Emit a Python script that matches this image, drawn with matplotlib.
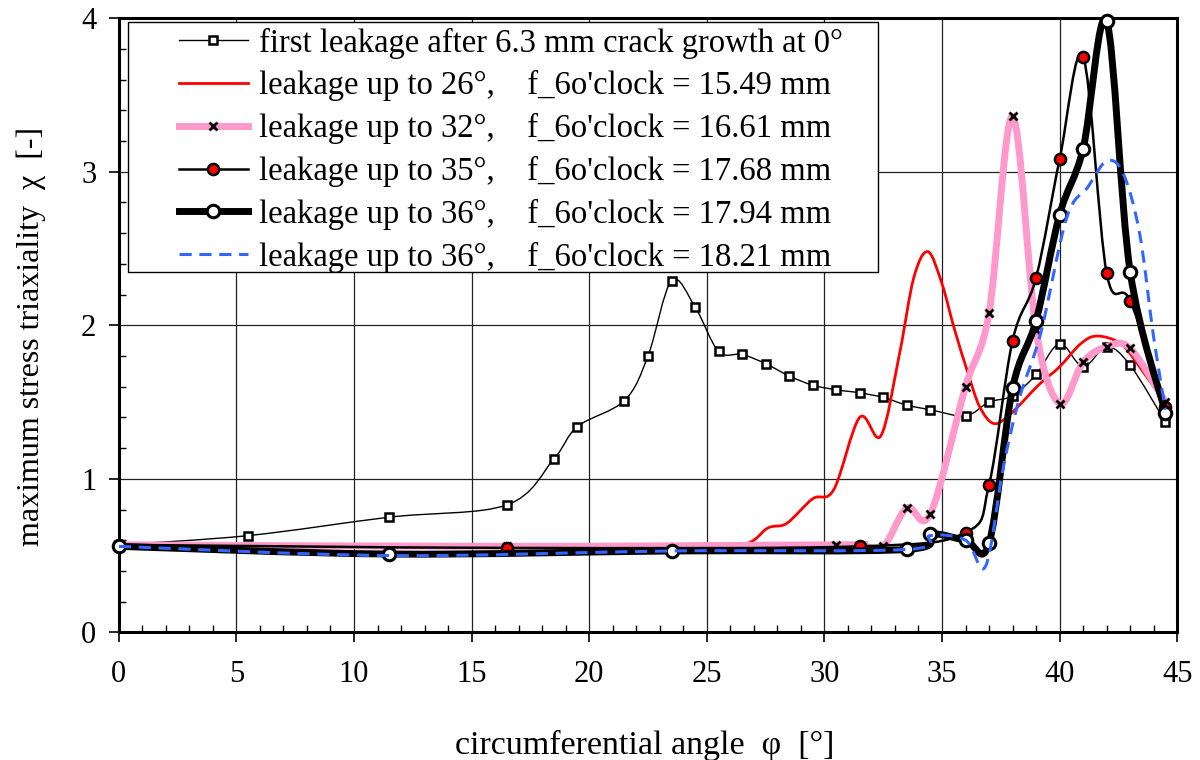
import numpy as np
import matplotlib.pyplot as plt
from matplotlib.path import Path
from matplotlib.patches import PathPatch, Rectangle
from matplotlib.lines import Line2D
from matplotlib.ticker import MultipleLocator

plt.rcParams['font.family'] = ['Liberation Serif', 'DejaVu Serif']

# first leakage after 6.3 mm crack growth at 0 deg
x1 = [0, 5.5, 11.5, 16.5, 18.5, 19.5, 21.5, 22.5, 23.5, 24.5, 25.5, 26.5, 27.5, 28.5,
      29.5, 30.5, 31.5, 32.5, 33.5, 34.5, 36, 37, 38, 39, 40, 41, 42, 43, 44.5]
y1 = [0.57, 0.63, 0.75, 0.83, 1.13, 1.34, 1.51, 1.80, 2.29, 2.12, 1.83, 1.81, 1.75, 1.67,
      1.61, 1.58, 1.56, 1.53, 1.48, 1.45, 1.41, 1.50, 1.54, 1.68, 1.88, 1.73, 1.86, 1.74, 1.37]

# leakage up to 26 deg (no markers)
x2 = [0, 11.5, 23.5, 26.5, 27.6, 28.4, 29.5, 30.4, 31.5, 32.4, 33.2, 33.8, 34.4, 35.0,
      35.5, 36.1, 36.6, 37.2, 37.9, 39.1, 40.0, 40.9, 41.6, 42.6, 43.4, 44.5]
y2 = [0.57, 0.56, 0.56, 0.57, 0.68, 0.71, 0.87, 0.93, 1.40, 1.28, 1.82, 2.31, 2.48, 2.27,
      1.99, 1.69, 1.47, 1.36, 1.42, 1.61, 1.73, 1.88, 1.93, 1.88, 1.73, 1.49]

# leakage up to 32 deg
x3 = [0, 16.5, 30.5, 31.5, 32.5, 33.5, 34.5, 36, 37, 38, 39, 40, 41, 42, 43, 44.5]
y3 = [0.57, 0.56, 0.57, 0.57, 0.56, 0.81, 0.77, 1.60, 2.08, 3.36, 1.97, 1.49, 1.76, 1.86, 1.85, 1.50]

# leakage up to 35 deg
x4 = [0, 16.5, 31.5, 36, 37, 38, 39, 40, 41, 42, 43, 44.5]
y4 = [0.57, 0.55, 0.56, 0.65, 0.96, 1.90, 2.31, 3.08, 3.75, 2.34, 2.16, 1.47]

# leakage up to 36 deg, 17.94 mm
x5 = [0, 11.5, 23.5, 33.5, 34.5, 36, 37, 38, 39, 40, 41, 42, 43, 44.5]
y5 = [0.56, 0.51, 0.53, 0.54, 0.64, 0.60, 0.58, 1.59, 2.03, 2.72, 3.15, 3.98, 2.35, 1.43]

# leakage up to 36 deg, 18.21 mm (no markers)
x6 = [0, 11.5, 23.5, 33.5, 34.5, 36.0, 36.85, 37.6, 38.3, 39.2, 40.3, 41.2, 42.0, 42.7,
      43.4, 44.0, 44.5]
y6 = [0.56, 0.50, 0.53, 0.54, 0.63, 0.60, 0.43, 1.07, 1.53, 1.95, 2.70, 2.90, 3.07, 2.99,
      2.60, 1.92, 1.45]

labels = ["first leakage after 6.3 mm crack growth at 0°",
          "leakage up to 26°,    f_6o'clock = 15.49 mm",
          "leakage up to 32°,    f_6o'clock = 16.61 mm",
          "leakage up to 35°,    f_6o'clock = 17.68 mm",
          "leakage up to 36°,    f_6o'clock = 17.94 mm",
          "leakage up to 36°,    f_6o'clock = 18.21 mm"]


def smooth_path(x, y):
    # bezier path through the points, like a smoothed excel line
    p = np.column_stack([x, y]).astype(float)
    n = len(p)
    verts = [p[0]]
    codes = [Path.MOVETO]
    for i in range(n - 1):
        p0 = p[i - 1] if i > 0 else p[i]
        p3 = p[i + 2] if i + 2 < n else p[i + 1]
        c1 = p[i] + (p[i + 1] - p0) / 6.0
        c2 = p[i + 1] - (p3 - p[i]) / 6.0
        verts += [c1, c2, p[i + 1]]
        codes += [Path.CURVE4] * 3
    return Path(verts, codes)


fig, ax = plt.subplots(figsize=(12, 7.6), dpi=100)
fig.subplots_adjust(left=0.099, right=0.981, bottom=0.168, top=0.976)

styles = [
    dict(color='black', lw=1.0, marker='s', ms=5.5, mfc='white', mec='black', mew=1.8),
    dict(color='red', lw=2.0, marker=None),
    dict(color='#ff99cc', lw=5.0, marker='x', ms=6, mfc='black', mec='black', mew=2.0),
    dict(color='black', lw=1.8, marker='o', ms=8, mfc='red', mec='black', mew=1.8),
    dict(color='black', lw=5.0, marker='o', ms=9, mfc='white', mec='black', mew=2.2),
    dict(color='#3366ff', lw=2.2, marker=None, ls=(0, (4, 2.5))),
]
data = [(x1, y1), (x2, y2), (x3, y3), (x4, y4), (x5, y5), (x6, y6)]

handles = []
for k, ((x, y), st) in enumerate(zip(data, styles)):
    ls = st.get('ls', '-')
    patch = PathPatch(smooth_path(x, y), facecolor='none', edgecolor=st['color'],
                      lw=st['lw'], linestyle=ls, zorder=3 + k, capstyle='butt')
    ax.add_patch(patch)
    if st['marker'] is not None:
        ax.plot(x, y, ls='none', marker=st['marker'], ms=st['ms'], mfc=st['mfc'],
                mec=st['mec'], mew=st['mew'], zorder=3 + k, clip_on=False)
        handles.append(Line2D([], [], color=st['color'], lw=st['lw'], marker=st['marker'],
                              ms=st['ms'], mfc=st['mfc'], mec=st['mec'], mew=st['mew']))
    else:
        handles.append(Line2D([], [], color=st['color'], lw=st['lw'], ls=ls))

ax.set_xlim(0, 45)
ax.set_ylim(0, 4)
ax.xaxis.set_major_locator(MultipleLocator(5))
ax.xaxis.set_minor_locator(MultipleLocator(1))
ax.yaxis.set_major_locator(MultipleLocator(1))
ax.yaxis.set_minor_locator(MultipleLocator(0.2))
ax.tick_params(which='major', direction='out', length=7.2, width=1.2, labelsize=22)
ax.tick_params(axis='x', which='major', pad=13)
ax.tick_params(axis='y', which='major', pad=9)
ax.tick_params(which='minor', direction='in', length=5, width=1.0)
ax.grid(True, which='major', color='#222222', lw=0.9)
ax.set_axisbelow(True)
for s in ax.spines.values():
    s.set_linewidth(2.2)

ax.set_xlabel("circumferential angle  φ  [°]", fontsize=24.5, va='center')
ax.xaxis.set_label_coords(0.497, -0.184)
ax.set_ylabel("maximum stress triaxiality  χ  [-]", fontsize=23, va='center')
ax.yaxis.set_label_coords(-0.083, 0.482)

# legend box drawn separately so the handles sit inside like the original
box = Rectangle((0.0085, 0.587), 0.7085, 0.407, transform=ax.transAxes,
                facecolor='white', edgecolor='black', lw=1.0, zorder=19)
ax.add_patch(box)
leg = ax.legend(handles, labels, loc='upper left', bbox_to_anchor=(0.057, 0.985),
                fontsize=23.5, frameon=False, handlelength=2.1, handletextpad=0.35,
                labelspacing=0.36, borderpad=0.0, borderaxespad=0.0)
leg.set_zorder(20)

fig.savefig('out.png', dpi=100)
